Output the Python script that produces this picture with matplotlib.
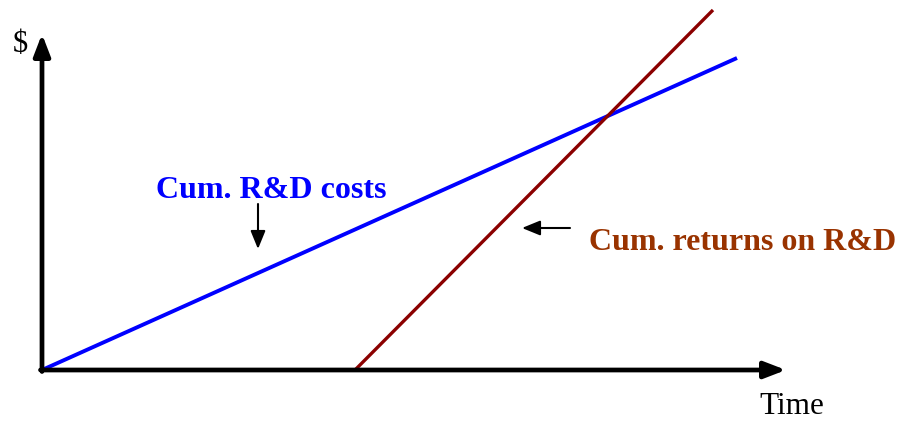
import matplotlib
matplotlib.use("Agg")
import matplotlib.pyplot as plt

# data (arbitrary units, origin at where the axes cross)
cost_x = [0, 695]
cost_y = [0, 312]
ret_x = [313, 671]
ret_y = [0, 360]

plt.rcParams['font.family'] = ['Liberation Serif', 'DejaVu Serif']

fig = plt.figure(figsize=(9.01, 4.21), dpi=100)
ax = fig.add_axes([0, 0, 1, 1])
ax.set_xlim(-42, 859)
ax.set_ylim(-51, 370)
ax.axis('off')

# axes with arrow heads
ax.annotate('', xy=(0, 336), xytext=(0, -1.5),
            arrowprops=dict(arrowstyle='-|>,head_length=1.3,head_width=0.5',
                            lw=3.4, color='black', shrinkA=0, shrinkB=0))
ax.annotate('', xy=(744, 0), xytext=(-1.5, 0),
            arrowprops=dict(arrowstyle='-|>,head_length=1.3,head_width=0.5',
                            lw=3.4, color='black', shrinkA=0, shrinkB=0))

ax.plot(cost_x, cost_y, color='#0000ff', lw=2.8, solid_capstyle='butt')
ax.plot(ret_x, ret_y, color='#8b0000', lw=2.4, solid_capstyle='butt')

ax.text(-22, 325, '$', fontsize=22, ha='center', va='center')
ax.text(750, -37, 'Time', fontsize=22.5, ha='center', va='center')

ax.text(229, 179, 'Cum. R&D costs', fontsize=23, fontweight='bold',
        color='#0000ff', ha='center', va='center')
ax.text(701, 127, 'Cum. returns on R&D', fontsize=23, fontweight='bold',
        color='#993300', ha='center', va='center')

# pointer arrows
ax.annotate('', xy=(216, 121), xytext=(216, 166),
            arrowprops=dict(arrowstyle='-|>,head_length=1.1,head_width=0.45',
                            lw=1.5, color='black', shrinkA=0, shrinkB=0))
ax.annotate('', xy=(480, 142), xytext=(528, 142),
            arrowprops=dict(arrowstyle='-|>,head_length=1.1,head_width=0.45',
                            lw=1.5, color='black', shrinkA=0, shrinkB=0))

fig.savefig('out.png', dpi=100)
